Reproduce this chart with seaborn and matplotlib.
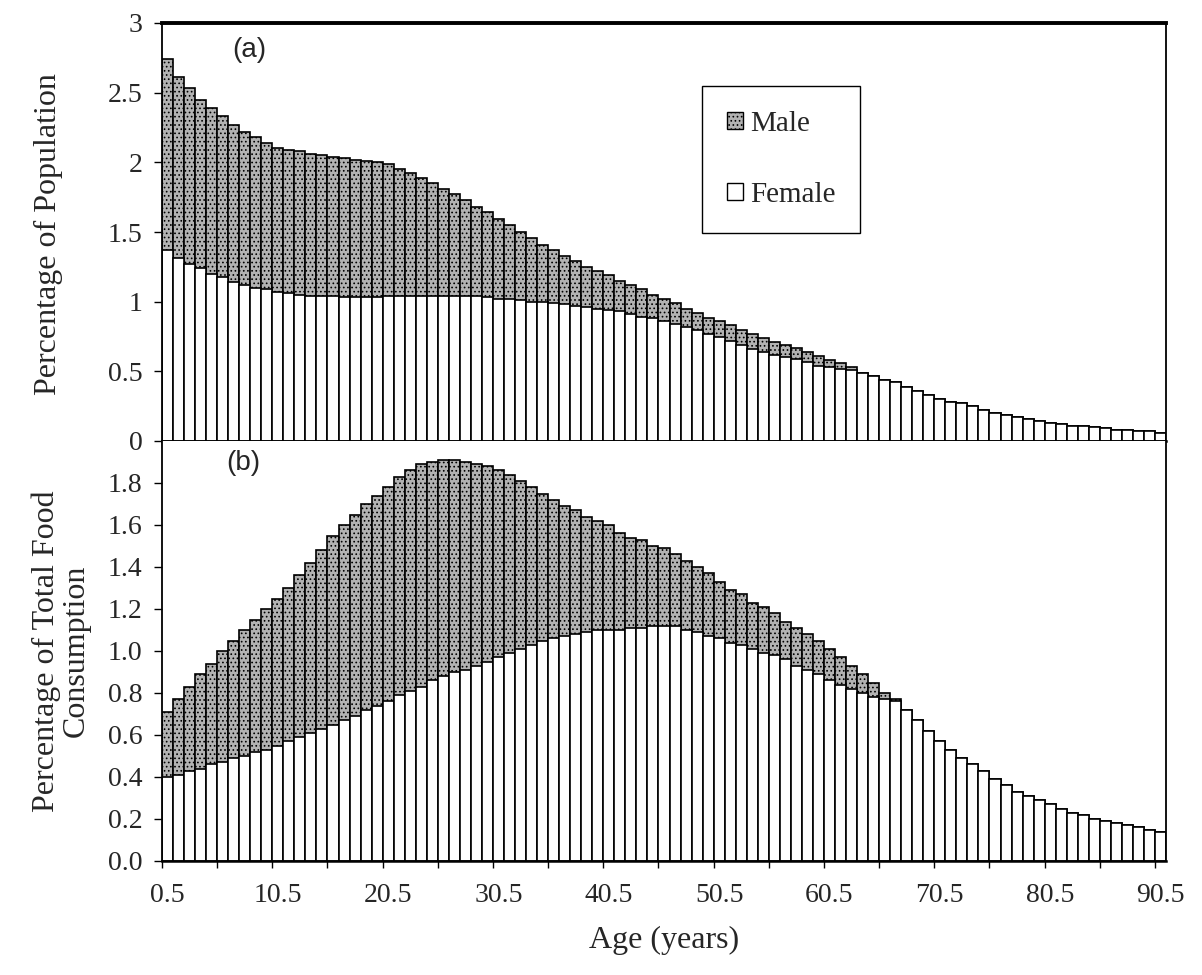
import numpy as np
import pandas as pd
import matplotlib
matplotlib.use("Agg")
import matplotlib.pyplot as plt
import seaborn as sns
from matplotlib.patches import Patch

# ---------------- data ----------------
ages = [f"{a:.1f}" for a in np.arange(0.5, 91.0, 1.0)]   # 0.5 ... 90.5 (91 one-year classes)

# (a) Percentage of population: female and female+male (total bar height)
pop_female = [1.37, 1.31, 1.27, 1.24, 1.20, 1.18, 1.14, 1.12, 1.10, 1.09,
              1.07, 1.06, 1.05, 1.04, 1.04, 1.04, 1.03, 1.03, 1.03, 1.03,
              1.04, 1.04, 1.04, 1.04, 1.04, 1.04, 1.04, 1.04, 1.04, 1.03,
              1.02, 1.02, 1.01, 1.00, 1.00, 0.99, 0.98, 0.97, 0.96, 0.95,
              0.94, 0.93, 0.91, 0.89, 0.88, 0.86, 0.84, 0.82, 0.80, 0.77,
              0.75, 0.72, 0.69, 0.66, 0.64, 0.62, 0.60, 0.59, 0.57, 0.54,
              0.53, 0.52, 0.51, 0.49, 0.47, 0.44, 0.42, 0.39, 0.36, 0.33,
              0.30, 0.28, 0.27, 0.25, 0.22, 0.20, 0.19, 0.17, 0.16, 0.14,
              0.13, 0.12, 0.11, 0.11, 0.10, 0.09, 0.08, 0.08, 0.07, 0.07,
              0.06]
pop_total = [2.74, 2.61, 2.53, 2.45, 2.39, 2.33, 2.27, 2.22, 2.18, 2.14,
             2.10, 2.09, 2.08, 2.06, 2.05, 2.04, 2.03, 2.02, 2.01, 2.00,
             1.99, 1.95, 1.92, 1.89, 1.85, 1.81, 1.77, 1.73, 1.68, 1.64,
             1.59, 1.55, 1.50, 1.46, 1.41, 1.37, 1.33, 1.29, 1.25, 1.22,
             1.19, 1.15, 1.12, 1.09, 1.05, 1.02, 0.99, 0.95, 0.92, 0.88,
             0.86, 0.83, 0.80, 0.77, 0.74, 0.71, 0.69, 0.67, 0.64, 0.61,
             0.58, 0.56, 0.53, 0.49, 0.47, 0.44, 0.42, 0.39, 0.36, 0.33,
             0.30, 0.28, 0.27, 0.25, 0.22, 0.20, 0.19, 0.17, 0.16, 0.14,
             0.13, 0.12, 0.11, 0.11, 0.10, 0.09, 0.08, 0.08, 0.07, 0.07,
             0.06]

# (b) Percentage of total food consumption: female and female+male
food_female = [0.40, 0.41, 0.43, 0.44, 0.46, 0.47, 0.49, 0.50, 0.52, 0.53,
               0.55, 0.57, 0.59, 0.61, 0.63, 0.65, 0.67, 0.69, 0.72, 0.74,
               0.76, 0.79, 0.81, 0.83, 0.86, 0.88, 0.90, 0.91, 0.93, 0.95,
               0.97, 0.99, 1.01, 1.03, 1.05, 1.06, 1.07, 1.08, 1.09, 1.10,
               1.10, 1.10, 1.11, 1.11, 1.12, 1.12, 1.12, 1.10, 1.09, 1.07,
               1.06, 1.04, 1.03, 1.01, 0.99, 0.98, 0.96, 0.93, 0.91, 0.89,
               0.86, 0.84, 0.82, 0.80, 0.78, 0.77, 0.76, 0.72, 0.67, 0.62,
               0.57, 0.53, 0.49, 0.46, 0.43, 0.39, 0.36, 0.33, 0.31, 0.29,
               0.27, 0.25, 0.23, 0.22, 0.20, 0.19, 0.18, 0.17, 0.16, 0.15,
               0.14]
food_total = [0.71, 0.77, 0.83, 0.89, 0.94, 1.00, 1.05, 1.10, 1.15, 1.20,
              1.25, 1.30, 1.36, 1.42, 1.48, 1.55, 1.60, 1.65, 1.70, 1.74,
              1.78, 1.83, 1.86, 1.89, 1.90, 1.91, 1.91, 1.90, 1.89, 1.88,
              1.86, 1.84, 1.81, 1.78, 1.75, 1.72, 1.69, 1.67, 1.64, 1.62,
              1.60, 1.56, 1.54, 1.53, 1.50, 1.49, 1.46, 1.43, 1.40, 1.37,
              1.33, 1.29, 1.27, 1.23, 1.21, 1.18, 1.14, 1.11, 1.08, 1.05,
              1.01, 0.97, 0.93, 0.89, 0.85, 0.80, 0.77, 0.72, 0.67, 0.62,
              0.57, 0.53, 0.49, 0.46, 0.43, 0.39, 0.36, 0.33, 0.31, 0.29,
              0.27, 0.25, 0.23, 0.22, 0.20, 0.19, 0.18, 0.17, 0.16, 0.15,
              0.14]

label_ages = ["0.5", "10.5", "20.5", "30.5", "40.5", "50.5", "60.5", "70.5", "80.5", "90.5"]
pop_yticks = [0, 0.5, 1, 1.5, 2, 2.5, 3]
pop_yticklabels = ["0", "0.5", "1", "1.5", "2", "2.5", "3"]
food_yticks = [0.0, 0.2, 0.4, 0.6, 0.8, 1.0, 1.2, 1.4, 1.6, 1.8]
food_yticklabels = ["0.0", "0.2", "0.4", "0.6", "0.8", "1.0", "1.2", "1.4", "1.6", "1.8"]

# ---------------- style ----------------
sns.set_theme(style="white")
plt.rcParams["font.family"] = ["Liberation Serif", "DejaVu Serif"]
plt.rcParams["hatch.linewidth"] = 0.7
plt.rcParams["hatch.color"] = "#202020"

MALE_FACE = "#b2b2b2"
EDGE = "black"
BAR_LW = 1.2

df_pop = pd.DataFrame({"age": ages, "female": pop_female, "total": pop_total})
df_food = pd.DataFrame({"age": ages, "female": food_female, "total": food_total})

W, H = 1202, 975
fig = plt.figure(figsize=(W / 100, H / 100), dpi=100)
left, right = 162, 1166
top, mid, bottom = 23, 441, 861
ax1 = fig.add_axes([left / W, 1 - mid / H, (right - left) / W, (mid - top) / H])
ax2 = fig.add_axes([left / W, 1 - bottom / H, (right - left) / W, (bottom - mid) / H])

for ax, df in ((ax1, df_pop), (ax2, df_food)):
    sns.barplot(data=df, x="age", y="total", order=ages, color=MALE_FACE, saturation=1,
                width=1.0, edgecolor=EDGE, linewidth=BAR_LW, hatch="....",
                errorbar=None, ax=ax)
    sns.barplot(data=df, x="age", y="female", order=ages, color="white", saturation=1,
                width=1.0, edgecolor=EDGE, linewidth=BAR_LW,
                errorbar=None, ax=ax)
    ax.set_xlim(-0.5, len(ages) - 0.5)
    ax.set_xlabel("")
    ax.set_ylabel("")
    for s in ax.spines.values():
        s.set_color("black")
        s.set_linewidth(1.3)
        s.set_visible(True)
    # category positions for labels, boundary ticks every 5 classes
    label_pos = [ages.index(a) for a in label_ages]
    ax.set_xticks(label_pos)
    ax.set_xticks(np.arange(-0.5, len(ages), 5), minor=True)
    ax.tick_params(axis="x", which="major", length=0, pad=16, labelsize=20)
    ax.tick_params(axis="x", which="minor", length=5, width=1.0, direction="out",
                   color="black", bottom=True)
    ax.tick_params(axis="y", which="major", length=6, width=1.0, direction="out",
                   color="black", left=True, pad=8, labelsize=20)

ax1.set_ylim(0, 3)
ax1.set_yticks(pop_yticks)
ax1.set_yticklabels(pop_yticklabels)
ax1.set_xticklabels([])
ax1.spines["top"].set_linewidth(2.8)
ax1.spines["bottom"].set_linewidth(1.8)

ax2.set_ylim(0, 2.0)
ax2.set_yticks(food_yticks)
ax2.set_yticklabels(food_yticklabels)
ax2.set_xticklabels(label_ages)
ax2.spines["top"].set_visible(False)
ax2.spines["bottom"].set_linewidth(1.8)

# axis labels
ax1.set_ylabel("Percentage of Population", fontsize=23, va="center")
ax1.yaxis.set_label_coords((48 - left) / (right - left), 0.495)
ax2.set_ylabel("Percentage of Total Food\nConsumption", fontsize=23, va="center",
               linespacing=1.05)
ax2.yaxis.set_label_coords((61 - left) / (right - left), 0.50)
ax2.set_xlabel("Age (years)", fontsize=23, va="center")
ax2.xaxis.set_label_coords(0.5, -(940 - bottom) / (bottom - mid))

# panel tags
fig.text(249 / W, 1 - 50 / H, "(a)", fontsize=20, family=["Liberation Sans", "DejaVu Sans"],
         ha="center", va="center")
fig.text(243 / W, 1 - 463 / H, "(b)", fontsize=20, family=["Liberation Sans", "DejaVu Sans"],
         ha="center", va="center")

# legend
handles = [Patch(facecolor=MALE_FACE, edgecolor=EDGE, hatch="....", linewidth=1.0, label="Male"),
           Patch(facecolor="white", edgecolor=EDGE, linewidth=1.0, label="Female")]
leg = ax1.legend(handles=handles, loc="upper left",
                 bbox_to_anchor=(702 / W, 1 - 86 / H), bbox_transform=fig.transFigure,
                 fontsize=21, frameon=True, fancybox=False, shadow=False,
                 handlelength=0.55, handleheight=0.55, handletextpad=0.25,
                 labelspacing=1.55, borderpad=0.85, borderaxespad=0)
leg.get_frame().set_edgecolor("black")
leg.get_frame().set_linewidth(1.0)
leg.get_frame().set_facecolor("white")
leg.get_frame().set_alpha(1)

fig.savefig("out.png", dpi=100)
